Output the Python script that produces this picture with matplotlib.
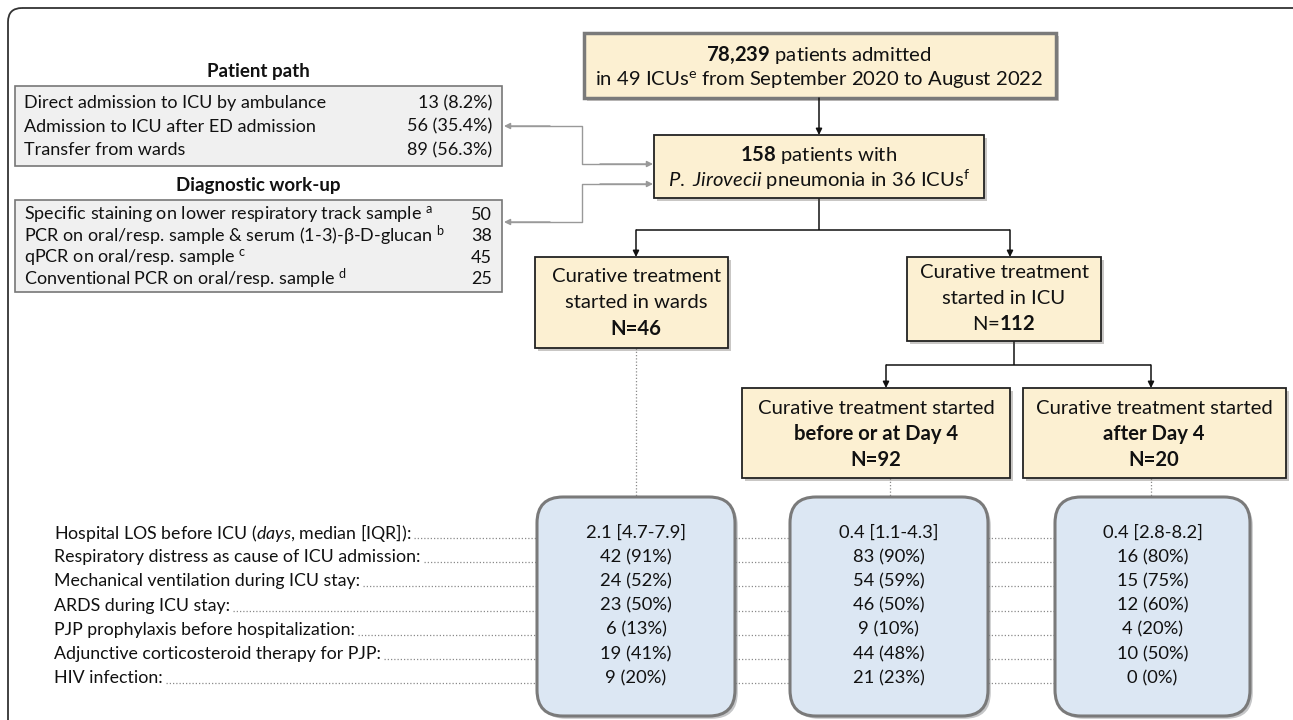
import matplotlib
matplotlib.use("Agg")
import matplotlib.pyplot as plt
from matplotlib.patches import FancyBboxPatch, Rectangle
import matplotlib.patheffects as pe

plt.rcParams['font.family'] = ['Lato', 'DejaVu Sans']
plt.rcParams['mathtext.fontset'] = 'custom'
plt.rcParams['mathtext.rm'] = 'Lato'
plt.rcParams['mathtext.it'] = 'Lato:italic'
plt.rcParams['mathtext.bf'] = 'Lato:bold'

n_admitted = "78,239"
n_icus_total = 49
n_pjp = 158
n_icus_pjp = 36
n_wards = 46
n_icu = 112
n_early = 92
n_late = 20

path_labels = ["Direct admission to ICU by ambulance",
               "Admission to ICU after ED admission",
               "Transfer from wards"]
path_values = ["13 (8.2%)", "56 (35.4%)", "89 (56.3%)"]

diag_labels = [r"Specific staining on lower respiratory track sample $^{\mathrm{a}}$",
               r"PCR on oral/resp. sample & serum (1-3)-β-D-glucan $^{\mathrm{b}}$",
               r"qPCR on oral/resp. sample $^{\mathrm{c}}$",
               r"Conventional PCR on oral/resp. sample $^{\mathrm{d}}$"]
diag_values = [50, 38, 45, 25]

char_labels = [r"Hospital LOS before ICU ($\mathit{days}$, median [IQR]):",
               "Respiratory distress as cause of ICU admission:",
               "Mechanical ventilation during ICU stay:",
               "ARDS during ICU stay:",
               "PJP prophylaxis before hospitalization:",
               "Adjunctive corticosteroid therapy for PJP:",
               "HIV infection:"]
wards_values = ["2.1 [4.7-7.9]", "42 (91%)", "24 (52%)", "23 (50%)",
                "6 (13%)", "19 (41%)", "9 (20%)"]
early_values = ["0.4 [1.1-4.3]", "83 (90%)", "54 (59%)", "46 (50%)",
                "9 (10%)", "44 (48%)", "21 (23%)"]
late_values = ["0.4 [2.8-8.2]", "16 (80%)", "15 (75%)", "12 (60%)",
               "4 (20%)", "10 (50%)", "0 (0%)"]

# ---- figure in pixel coordinates ----
W, H = 1293, 720
fig = plt.figure(figsize=(W / 100, H / 100), dpi=100)
ax = fig.add_axes([0, 0, 1, 1])
ax.set_xlim(0, W)
ax.set_ylim(H, 0)
ax.axis('off')

CREAM = '#fcf0d2'
BLUE = '#dce7f3'
GREYBOX = '#f0f0f0'
FS = 14.6      # flow box text
shadow = [pe.SimplePatchShadow(offset=(2, -2), alpha=0.3), pe.Normal()]


def box(x0, y0, x1, y1, fc, ec='#222222', lw=1.3, round_=0, fx=True):
    if round_:
        p = FancyBboxPatch((x0, y0), x1 - x0, y1 - y0,
                           boxstyle=f"round,pad=0,rounding_size={round_}",
                           fc=fc, ec=ec, lw=lw, zorder=3)
    else:
        p = Rectangle((x0, y0), x1 - x0, y1 - y0, fc=fc, ec=ec, lw=lw, zorder=3)
    if fx:
        p.set_path_effects(shadow)
    ax.add_patch(p)
    return p


def txt(x, y, s, size=FS, ha='center', **kw):
    return ax.text(x, y, s, fontsize=size, ha=ha, va='center', zorder=5,
                   color='#111111', **kw)


def arrow(x0, y0, x1, y1, color='#111111', lw=1.1):
    ax.annotate('', xy=(x1, y1), xytext=(x0, y0), zorder=4,
                arrowprops=dict(arrowstyle='-|>', color=color, lw=lw,
                                mutation_scale=9, shrinkA=0, shrinkB=0))


def line(xs, ys, color='#111111', lw=1.1, ls='-'):
    ax.plot(xs, ys, color=color, lw=lw, ls=ls, zorder=2, solid_capstyle='butt')


# outer frame
frame = FancyBboxPatch((8, 8), 1300, 740, boxstyle="round,pad=0,rounding_size=14",
                       fc='none', ec='#333333', lw=1.3, zorder=1)
ax.add_patch(frame)

# ---- left side: patient path & diagnostic work-up ----
LS = 13
txt(258, 72, "Patient path", size=13.5, weight='bold')
box(15, 86, 502, 166, GREYBOX, ec='#777777', lw=1.2, fx=False)
for i, (lab, val) in enumerate(zip(path_labels, path_values)):
    y = 103 + i * 23.5
    txt(24, y, lab, size=LS, ha='left')
    txt(492, y, val, size=LS, ha='right')

txt(258, 186, "Diagnostic work-up", size=13.5, weight='bold')
box(15, 200, 502, 292, GREYBOX, ec='#777777', lw=1.2, fx=False)
for i, (lab, val) in enumerate(zip(diag_labels, diag_values)):
    y = 215 + i * 21.3
    txt(24, y, lab, size=LS, ha='left')
    txt(492, y, str(val), size=LS, ha='right')

# grey connectors from the side panels to the PJP box
GC = '#999999'
line([506, 582, 582, 646], [126, 126, 164, 164], color=GC, lw=1)
arrow(600, 164, 653, 164, color=GC, lw=1)
arrow(550, 126, 504, 126, color=GC, lw=1)
line([506, 582, 582, 646], [222, 222, 184, 184], color=GC, lw=1)
arrow(600, 184, 653, 184, color=GC, lw=1)
arrow(550, 222, 504, 222, color=GC, lw=1)

# ---- flow boxes ----
cx = 819
box(584, 33, 1056, 98, CREAM, ec='#7a7a7a', lw=2.5)
txt(cx, 55, r"$\mathbf{" + n_admitted.replace(",", "{,}") + r"}$ patients admitted")
txt(cx, 80, f"in {n_icus_total} ICUs" + r"$^{\mathrm{e}}$ from September 2020 to August 2022")
arrow(cx, 98, cx, 135)

box(654, 135, 984, 198, CREAM)
txt(cx, 155, r"$\mathbf{" + str(n_pjp) + r"}$ patients with")
txt(cx, 180, r"$\mathit{P.\ Jirovecii}$ pneumonia in " + f"{n_icus_pjp} ICUs" + r"$^{\mathrm{f}}$")

# branch to wards / ICU
xw, xi = 636, 1010
line([cx, cx], [198, 230])
line([xw, xi], [230, 230])
arrow(xw, 230, xw, 257)
arrow(xi, 230, xi, 257)

box(535, 257, 728, 348, CREAM)
txt(xw, 276, "Curative treatment")
txt(xw, 302, "started in wards")
txt(xw, 329, f"N={n_wards}", weight='bold')

box(907, 257, 1101, 341, CREAM)
txt(1004, 273, "Curative treatment")
txt(1004, 298, "started in ICU")
txt(1004, 324, r"N=$\mathbf{" + str(n_icu) + r"}$")

# branch to early / late
xe, xl = 886, 1151
line([1014, 1014], [341, 365])
line([xe, xl], [365, 365])
arrow(xe, 365, xe, 388)
arrow(xl, 365, xl, 388)

box(742, 388, 1010, 478, CREAM)
txt(876, 408, "Curative treatment started")
txt(876, 434, "before or at Day 4", weight='bold')
txt(876, 460, f"N={n_early}", weight='bold')

box(1023, 388, 1286, 478, CREAM)
txt(1154, 408, "Curative treatment started")
txt(1154, 434, "after Day 4", weight='bold')
txt(1154, 460, f"N={n_late}", weight='bold')

# ---- characteristics ----
DOT = dict(color='#8a8a8a', lw=0.9, ls=(0, (1, 1.6)))
line([xw, xw], [348, 497], **DOT)
line([890, 890], [478, 497], **DOT)
line([1151, 1151], [478, 497], **DOT)

cols = [(537, 735, wards_values), (790, 988, early_values), (1055, 1250, late_values)]
for x0, x1, vals in cols:
    box(x0, 497, x1, 716, BLUE, ec='#7a7a7a', lw=2.2, round_=26)
    for i, v in enumerate(vals):
        txt((x0 + x1) / 2, 533 + i * 24.2, v, size=13.2)

fig.canvas.draw()
rend = fig.canvas.get_renderer()
inv = ax.transData.inverted()
for i, lab in enumerate(char_labels):
    y = 533 + i * 24.2
    t = txt(54, y, lab, size=12.8, ha='left')
    bb = t.get_window_extent(renderer=rend)
    xend = inv.transform((bb.x1, 0))[0]
    line([xend + 3, cols[0][0]], [y + 5, y + 5], **DOT)
    line([cols[0][1], cols[1][0]], [y + 5, y + 5], **DOT)
    line([cols[1][1], cols[2][0]], [y + 5, y + 5], **DOT)

fig.savefig("out.png", dpi=100)
